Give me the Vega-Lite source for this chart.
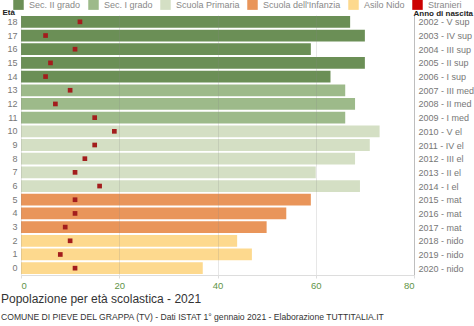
{
  "$schema": "https://vega.github.io/schema/vega-lite/v6.json",
  "width": 393,
  "height": 260,
  "autosize": {"type": "none"},
  "padding": {"left": 21, "top": 15, "right": 60, "bottom": 51},
  "background": "white",
  "config": {
    "font": "Liberation Sans",
    "view": {"stroke": null}
  },
  "title": {
    "text": "Popolazione per età scolastica - 2021",
    "subtitle": "COMUNE DI PIEVE DEL GRAPPA (TV) - Dati ISTAT 1° gennaio 2021 - Elaborazione TUTTITALIA.IT",
    "orient": "bottom",
    "anchor": "start",
    "frame": "group",
    "dx": -20,
    "offset": 4,
    "fontSize": 12,
    "fontWeight": "normal",
    "color": "#333",
    "subtitleFontSize": 8.6,
    "subtitleColor": "#333",
    "subtitlePadding": 7
  },
  "data": {
    "values": [
      {"eta": 18, "anno": "2002 - V sup", "totale": 67, "stranieri": 12, "grado": "Sec. II grado"},
      {"eta": 17, "anno": "2003 - IV sup", "totale": 70, "stranieri": 5, "grado": "Sec. II grado"},
      {"eta": 16, "anno": "2004 - III sup", "totale": 59, "stranieri": 11, "grado": "Sec. II grado"},
      {"eta": 15, "anno": "2005 - II sup", "totale": 70, "stranieri": 6, "grado": "Sec. II grado"},
      {"eta": 14, "anno": "2006 - I sup", "totale": 63, "stranieri": 5, "grado": "Sec. II grado"},
      {"eta": 13, "anno": "2007 - III med", "totale": 66, "stranieri": 10, "grado": "Sec. I grado"},
      {"eta": 12, "anno": "2008 - II med", "totale": 68, "stranieri": 7, "grado": "Sec. I grado"},
      {"eta": 11, "anno": "2009 - I med", "totale": 66, "stranieri": 15, "grado": "Sec. I grado"},
      {"eta": 10, "anno": "2010 - V el", "totale": 73, "stranieri": 19, "grado": "Scuola Primaria"},
      {"eta": 9, "anno": "2011 - IV el", "totale": 71, "stranieri": 15, "grado": "Scuola Primaria"},
      {"eta": 8, "anno": "2012 - III el", "totale": 68, "stranieri": 13, "grado": "Scuola Primaria"},
      {"eta": 7, "anno": "2013 - II el", "totale": 60, "stranieri": 11, "grado": "Scuola Primaria"},
      {"eta": 6, "anno": "2014 - I el", "totale": 69, "stranieri": 16, "grado": "Scuola Primaria"},
      {"eta": 5, "anno": "2015 - mat", "totale": 59, "stranieri": 11, "grado": "Scuola dell'Infanzia"},
      {"eta": 4, "anno": "2016 - mat", "totale": 54, "stranieri": 11, "grado": "Scuola dell'Infanzia"},
      {"eta": 3, "anno": "2017 - mat", "totale": 50, "stranieri": 9, "grado": "Scuola dell'Infanzia"},
      {"eta": 2, "anno": "2018 - nido", "totale": 44, "stranieri": 10, "grado": "Asilo Nido"},
      {"eta": 1, "anno": "2019 - nido", "totale": 47, "stranieri": 8, "grado": "Asilo Nido"},
      {"eta": 0, "anno": "2020 - nido", "totale": 37, "stranieri": 11, "grado": "Asilo Nido"}
    ]
  },
  "layer": [
    {
      "mark": {"type": "bar"},
      "encoding": {
        "y": {
          "field": "eta", "type": "ordinal", "sort": "descending",
          "scale": {"paddingInner": 0.14, "paddingOuter": 0.07},
          "axis": {
            "orient": "left", "title": "Età", "titleAngle": 0, "titleX": -19, "titleY": -1,
            "titleAlign": "left", "titleBaseline": "alphabetic", "titleFontSize": 8, "titleFontWeight": "bold", "titleColor": "#222",
            "domain": false, "ticks": false, "labelPadding": 4, "labelFontSize": 9, "labelColor": "#777"
          }
        },
        "x": {
          "field": "totale", "type": "quantitative",
          "scale": {"domain": [0, 80]},
          "axis": {
            "values": [0, 20, 40, 60, 80], "title": null, "labelFontSize": 9.5, "labelColor": "#5f9448",
            "domainColor": "#ddd", "tickColor": "#ddd", "tickSize": 3, "labelPadding": 2,
            "gridColor": "#888", "gridOpacity": 0.2, "zindex": 1
          }
        },
        "color": {
          "field": "grado", "type": "nominal",
          "scale": {
            "domain": ["Sec. II grado", "Sec. I grado", "Scuola Primaria", "Scuola dell'Infanzia", "Asilo Nido", "Stranieri"],
            "range": ["#6b8f56", "#9dba8a", "#d4dfc4", "#e9955a", "#fdd98e", "#cc0000"]
          },
          "legend": {
            "orient": "none", "legendX": -8, "legendY": -16, "direction": "horizontal", "title": null,
            "symbolType": "square", "symbolSize": 110, "symbolStrokeWidth": 0, "symbolOpacity": 1,
            "labelFontSize": 9, "labelColor": "#888", "columnPadding": 7, "labelOffset": 5, "padding": 0
          }
        }
      }
    },
    {
      "mark": {"type": "square", "color": "#a31d1d", "opacity": 1, "size": 22},
      "encoding": {
        "y": {
          "field": "anno", "type": "nominal", "sort": {"field": "eta", "order": "descending"},
          "scale": {"paddingInner": 0.14, "paddingOuter": 0.07},
          "axis": {
            "orient": "right", "title": "Anno di nascita", "titleAngle": 0, "titleX": -1, "titleY": 0,
            "titleAlign": "left", "titleBaseline": "alphabetic", "titleFontSize": 8, "titleFontWeight": "bold", "titleColor": "#222",
            "domain": true, "domainColor": "#ccc", "ticks": false, "labelPadding": 4, "labelFontSize": 9, "labelColor": "#777"
          }
        },
        "x": {"field": "stranieri", "type": "quantitative"}
      }
    }
  ],
  "resolve": {"scale": {"y": "independent"}}
}
